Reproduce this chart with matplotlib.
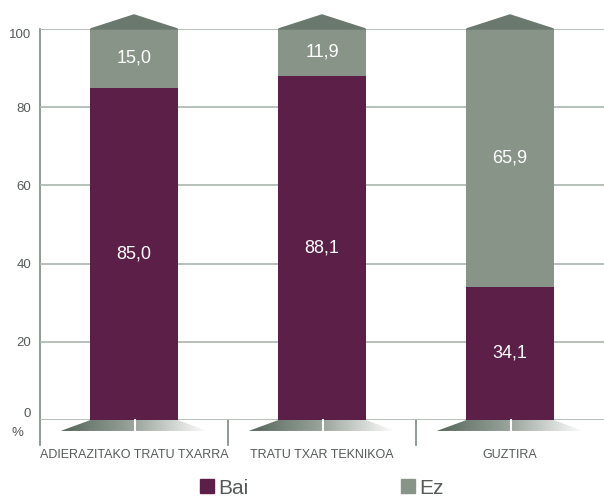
import matplotlib.pyplot as plt
import numpy as np
from matplotlib.patches import Polygon, Patch
from matplotlib.colors import LinearSegmentedColormap

plt.rcParams['font.family'] = ['Liberation Sans', 'DejaVu Sans']

# data
categories = ['ADIERAZITAKO TRATU TXARRA', 'TRATU TXAR TEKNIKOA', 'GUZTIRA']
bai = [85.0, 88.1, 34.1]
ez = [15.0, 11.9, 65.9]
yticks = [0, 20, 40, 60, 80, 100]

color_bai = '#5b1f48'
color_ez = '#899489'
color_cap = '#6b786d'
color_grid = '#aab5ad'
color_axis = '#7d8a80'
color_text = '#555a57'

fig = plt.figure(figsize=(6.04, 4.96), dpi=100)
ax = fig.add_axes([40/604, 1 - 420/496, 1 - 40/604, (420 - 29)/496])

x = np.arange(len(categories))
width = 0.463

ax.bar(x, bai, width, color=color_bai, zorder=3)
ax.bar(x, ez, width, bottom=bai, color=color_ez, zorder=3)

# triangular caps on top of each bar
for xi in x:
    cap = Polygon([[xi - width/2, 100], [xi, 103.6], [xi + width/2, 100]],
                  closed=True, color=color_cap, clip_on=False, zorder=3)
    ax.add_patch(cap)

# pedestals under the bars, shaded left to right
grad = np.linspace(0, 1, 256).reshape(1, -1)
cmap = LinearSegmentedColormap.from_list('ped', ['#56665a', '#9aa59c', '#ffffff'])
for xi in x:
    ped = Polygon([[xi - 0.39, -2.8], [xi - width/2, 0], [xi + width/2, 0], [xi + 0.39, -2.8]],
                  closed=True, facecolor='none', edgecolor='none', clip_on=False)
    ax.add_patch(ped)
    im = ax.imshow(grad, cmap=cmap, aspect='auto', extent=[xi - 0.39, xi + 0.39, -2.8, 0],
                   zorder=2)
    im.set_clip_box(fig.bbox)
    im.set_clip_path(ped)
    ax.plot([xi + 0.005, xi + 0.005], [-2.8, 0], color='white', lw=1.5, clip_on=False, zorder=4)

# value labels
for xi, b, e in zip(x, bai, ez):
    ax.text(xi, b / 2, f'{b:.1f}'.replace('.', ','), ha='center', va='center',
            color='white', fontsize=13, zorder=5)
    ax.text(xi, b + e / 2, f'{e:.1f}'.replace('.', ','), ha='center', va='center',
            color='white', fontsize=13, zorder=5)

ax.set_xlim(-0.5, 2.5)
ax.set_ylim(0, 100)
ax.set_yticks(yticks)
ax.set_yticklabels([str(t) for t in yticks])
ax.tick_params(axis='y', length=0, pad=6.5, labelsize=9.5, labelcolor=color_text)
ax.tick_params(axis='x', length=0, bottom=False, labelbottom=False)
for lbl, t in zip(ax.get_yticklabels(), yticks):
    if t == 100:
        lbl.set_va('top')
    elif t == 0:
        lbl.set_va('bottom')
ax.grid(True, axis='y', color=color_grid, lw=1.2, zorder=0)
for s in ax.spines.values():
    s.set_visible(False)

# axis line and separators reaching into label row
ax.plot([-0.5, -0.5], [-6.4, 100], color=color_axis, lw=1.2, clip_on=False, zorder=1)
for sep in [0.5, 1.5]:
    ax.plot([sep, sep], [-6.4, 0], color=color_axis, lw=1.2, clip_on=False, zorder=1)

ax.text(-0.622, -3.3, '%', ha='center', va='center', fontsize=9.5, color=color_text)
for xi, cat in zip(x, categories):
    ax.text(xi, -8.9, cat, ha='center', va='center', fontsize=9, color=color_text)

handles = [Patch(color=color_bai, label='Bai'), Patch(color=color_ez, label='Ez')]
fig.legend(handles=handles, loc='center', bbox_to_anchor=(322/604, 1 - 488/496), ncol=2,
           frameon=False, fontsize=15, handlelength=0.67, handleheight=0.67,
           handletextpad=0.2, columnspacing=7.35, labelcolor=color_text)

fig.savefig('out.png', dpi=100)
